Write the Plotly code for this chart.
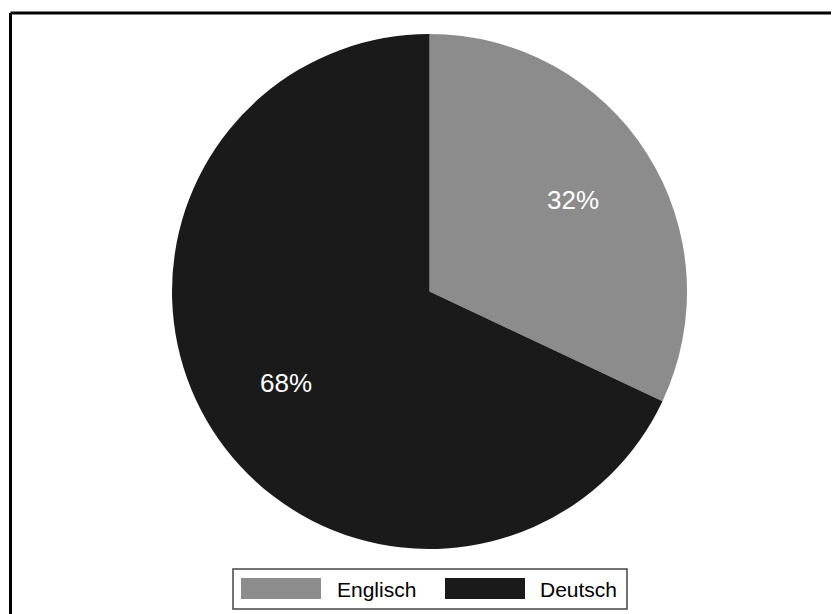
import math
import plotly.graph_objects as go

labels = ["Englisch", "Deutsch"]
values = [32, 68]
colors = ["#8c8c8c", "#1a1a1a"]

# page body has an 8px margin; the figure covers the rest of the window
OFF = 8
W, H = 839 - OFF, 614 - OFF


def px(x):
    return (x - OFF) / W


def py(y):
    return 1 - (y - OFF) / H


CX, CY, R = 429.5, 291.5, 257.5

fig = go.Figure()
fig.add_trace(go.Pie(
    labels=labels, values=values, sort=False, direction="clockwise", rotation=0,
    marker=dict(colors=colors, line=dict(width=0)),
    textinfo="none",
    domain=dict(x=[px(CX - R), px(CX + R)], y=[py(CY + R), py(CY - R)]),
    showlegend=False, hoverinfo="label+percent",
))

shapes = [
    dict(type="line", xref="paper", yref="paper", x0=px(10.5), x1=1.02, y0=py(13), y1=py(13),
         line=dict(color="black", width=3)),
    dict(type="line", xref="paper", yref="paper", x0=px(10.5), x1=px(10.5), y0=py(13), y1=-0.02,
         line=dict(color="black", width=3)),
    dict(type="rect", xref="paper", yref="paper", x0=px(233), x1=px(627), y0=py(569), y1=py(609),
         line=dict(color="#444444", width=1.5), fillcolor="white"),
]
annotations = []

# percentage labels placed along each slice's bisector
total = sum(values)
cum = 0
for v in values:
    mid = (cum + v / 2) / total * 2 * math.pi
    cum += v
    lx = CX + 0.66 * R * math.sin(mid)
    ly = CY - 0.66 * R * math.cos(mid)
    annotations.append(dict(xref="paper", yref="paper", x=px(lx), y=py(ly),
                            xanchor="center", yanchor="middle",
                            text=f"{round(v / total * 100)}%", showarrow=False,
                            font=dict(family="Liberation Sans, Arial, sans-serif", size=26, color="white")))

sw_x = [241, 445]
tx_x = [335, 538]
for i, lab in enumerate(labels):
    shapes.append(dict(type="rect", xref="paper", yref="paper",
                       x0=px(sw_x[i]), x1=px(sw_x[i] + 80), y0=py(599), y1=py(578),
                       line=dict(width=0), fillcolor=colors[i]))
    annotations.append(dict(xref="paper", yref="paper", x=px(tx_x[i]), y=py(589),
                            xanchor="left", yanchor="middle", text=lab, showarrow=False,
                            font=dict(family="Liberation Sans, Arial, sans-serif", size=21, color="black")))

fig.update_layout(
    width=W, height=H, margin=dict(l=0, r=0, t=0, b=0),
    paper_bgcolor="white", plot_bgcolor="white",
    shapes=shapes, annotations=annotations,
)
fig.write_html("out.html")
